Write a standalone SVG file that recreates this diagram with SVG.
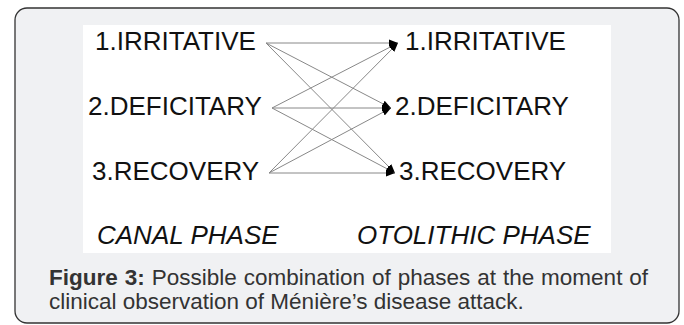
<svg xmlns="http://www.w3.org/2000/svg" width="684" height="325" viewBox="0 0 684 325">
<defs>
<marker id="ah" viewBox="0 0 10 10" refX="10" refY="5" markerWidth="9" markerHeight="9" markerUnits="userSpaceOnUse" orient="auto">
<path d="M0,1 L10,5 L0,9 Z" fill="#000"/>
</marker>
<style>
.t{font-family:"Liberation Sans",Arial,sans-serif;font-size:26px;fill:#111}
.i{font-style:italic}
.c{font-family:"Liberation Sans",Arial,sans-serif;font-size:22.5px;fill:#333}
.e{stroke:#888;stroke-width:1;fill:none;marker-end:url(#ah)}
</style>
</defs>
<rect x="0" y="0" width="684" height="325" fill="#fff"/>
<rect x="15" y="8" width="664" height="315" rx="12" fill="#f0f1f3" stroke="#333" stroke-width="1.3"/>
<rect x="83" y="25" width="528" height="228" fill="#fff"/>
<g id="connectors">
<line class="e" x1="266" y1="43" x2="398" y2="43"/>
<line class="e" x1="266" y1="43" x2="391" y2="108"/>
<line class="e" x1="266" y1="43" x2="395" y2="173"/>
<line class="e" x1="272" y1="108" x2="398" y2="43"/>
<line class="e" x1="272" y1="108" x2="391" y2="108"/>
<line class="e" x1="272" y1="108" x2="395" y2="173"/>
<line class="e" x1="269" y1="173" x2="398" y2="43"/>
<line class="e" x1="269" y1="173" x2="391" y2="108"/>
<line class="e" x1="269" y1="173" x2="395" y2="173"/>
</g>
<g id="canal-1"><text class="t" x="95" y="50">1.IRRITATIVE</text></g>
<g id="canal-2"><text class="t" x="88" y="115">2.DEFICITARY</text></g>
<g id="canal-3"><text class="t" x="92" y="180">3.RECOVERY</text></g>
<g id="oto-1"><text class="t" x="405" y="50">1.IRRITATIVE</text></g>
<g id="oto-2"><text class="t" x="395" y="115">2.DEFICITARY</text></g>
<g id="oto-3"><text class="t" x="399" y="180">3.RECOVERY</text></g>
<g id="labels">
<text class="t i" x="97" y="244">CANAL PHASE</text>
<text class="t i" x="357" y="244">OTOLITHIC PHASE</text>
</g>
<g id="caption">
<text class="c" x="49" y="285" word-spacing="0.7"><tspan font-weight="bold">Figure 3:</tspan> Possible combination of phases at the moment of</text>
<text class="c" x="49" y="309">clinical observation of Ménière’s disease attack.</text>
</g>
</svg>
